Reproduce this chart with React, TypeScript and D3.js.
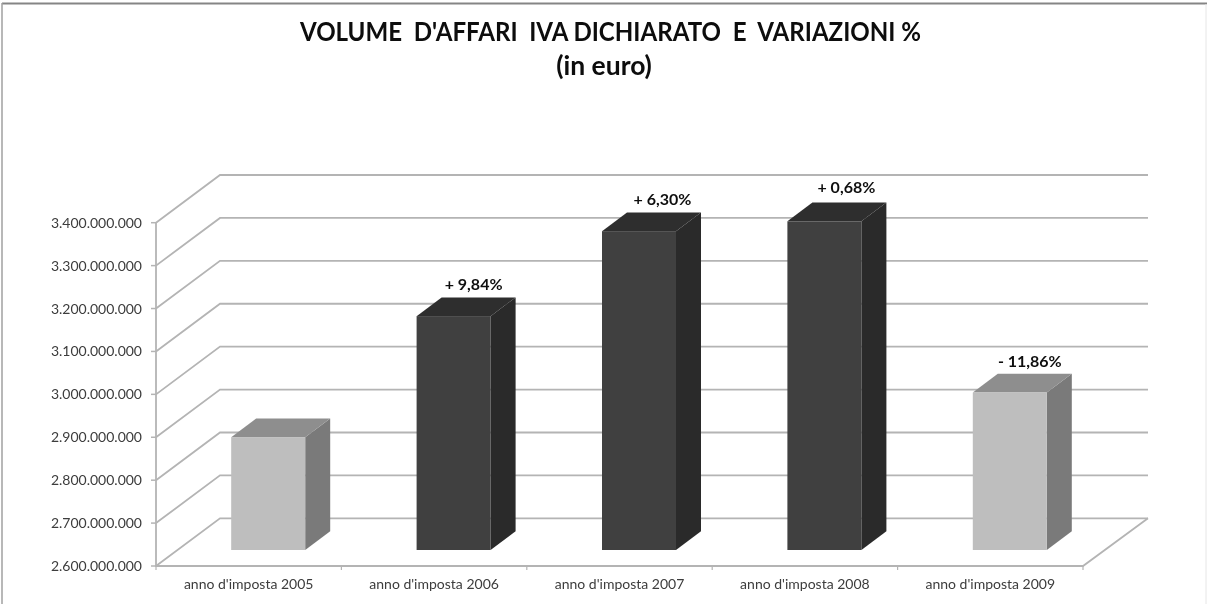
import React from "react";
import * as d3 from "d3";

const categories = ["anno d'imposta 2005", "anno d'imposta 2006", "anno d'imposta 2007", "anno d'imposta 2008", "anno d'imposta 2009"];
const values = [2863000000, 3145000000, 3343000000, 3366000000, 2967000000];
const changes = ["", "+ 9,84%", "+ 6,30%", "+ 0,68%", "- 11,86%"];
const highlighted = [false, true, true, true, false];
const yTicks = [2600000000, 2700000000, 2800000000, 2900000000, 3000000000, 3100000000, 3200000000, 3300000000, 3400000000];

const W = 1207, H = 604;
const font = "Lato, 'Open Sans', sans-serif";
const left = 156, right = 1083, bottom = 566, top = 222.7;
const depthX = 64, depthY = 47.7;
const barDepthX = 25, barDepthY = 18.7;
const barOffX = 19.5, barOffY = 16, barW = 74;
const labelNudgeX = [0, -17, -13.5, -15, -17];
const labelNudgeY = [0, -26, -26, -28, -26];

const y = d3.scaleLinear().domain([2600000000, 3400000000]).range([bottom, top]);
const x = d3.scaleBand<string>().domain(categories).range([left, right]);
const fmt = (v: number) => d3.format(",")(v).replace(/,/g, ".");
const pts = (p: [number, number][]) => p.map((q) => q.join(",")).join(" ");
const axis = "#b4b4b4";

export default function App() {
  return (
    <svg width={W} height={H} style={{ position: "absolute", left: 0, top: 0, background: "#fff" }}>
      <defs>
        <filter id="soft" x="0" y="0" width="100%" height="100%">
          <feGaussianBlur stdDeviation="0.45" />
        </filter>
      </defs>
      <g filter="url(#soft)">
        <rect x={0} y={0} width={W} height={H} fill="#fff" />
        <line x1={2} y1={3.5} x2={W} y2={3.5} stroke="#858585" strokeWidth={2} />
        <line x1={2} y1={3} x2={2} y2={H} stroke="#a0a0a0" strokeWidth={1.5} />
        <line x1={1206} y1={4} x2={1206} y2={H} stroke="#e6e6e6" strokeWidth={1} />

        <text x={610.5} y={41} textAnchor="middle" fontFamily={font} fontWeight={700} fontSize={26.5} fill="#0a0a0a" xmlSpace="preserve" textLength={621} lengthAdjust="spacingAndGlyphs">
          VOLUME  D'AFFARI  IVA DICHIARATO  E  VARIAZIONI %
        </text>
        <text x={604} y={75} textAnchor="middle" fontFamily={font} fontWeight={700} fontSize={26.5} fill="#0a0a0a">(in euro)</text>

        {yTicks.map((t) => {
          const yy = y(t);
          return (
            <g key={t}>
              <polyline
                points={pts([[left, yy], [left + depthX, yy - depthY], [1148, yy - depthY]])}
                fill="none" stroke={axis} strokeWidth={1.8}
              />
              <line x1={left - 5} x2={left} y1={yy} y2={yy} stroke={axis} strokeWidth={1.5} />
              <text x={142} y={yy + 5} textAnchor="end" fontFamily={font} fontSize={14} fill="#3c3c3c">{fmt(t)}</text>
            </g>
          );
        })}

        <polyline points={pts([[left, y(3400000000)], [left, bottom], [right, bottom], [1148, bottom - depthY]])} fill="none" stroke={axis} strokeWidth={1.8} />
        {d3.range(categories.length + 1).map((i) => {
          const xx = left + i * x.step();
          return <line key={i} x1={xx} x2={xx} y1={bottom} y2={bottom + 4} stroke={axis} strokeWidth={1.2} />;
        })}

        {categories.map((c, i) => {
          const bx0 = x(c)! + (x.bandwidth() - barW) / 2 + barOffX;
          const bx1 = bx0 + barW;
          const yBase = bottom - barOffY;
          const yTop = y(values[i]) - barOffY;
          const front = highlighted[i] ? "#3f3f3f" : "#bebebe";
          const side = highlighted[i] ? "#292929" : "#7a7a7a";
          const cap = highlighted[i] ? "#2e2e2e" : "#8e8e8e";
          return (
            <g key={c}>
              <polygon points={pts([[bx1, yBase], [bx1 + barDepthX, yBase - barDepthY], [bx1 + barDepthX, yTop - barDepthY], [bx1, yTop]])} fill={side} />
              <polygon points={pts([[bx0, yTop], [bx0 + barDepthX, yTop - barDepthY], [bx1 + barDepthX, yTop - barDepthY], [bx1, yTop]])} fill={cap} />
              <rect x={bx0} y={yTop} width={barW} height={yBase - yTop} fill={front} />
              {changes[i] && (
                <text x={bx1 + labelNudgeX[i]} y={yTop + labelNudgeY[i]} textAnchor="middle" fontFamily={font} fontWeight={700} fontSize={16} fill="#111">{changes[i]}</text>
              )}
              <text x={x(c)! + x.bandwidth() / 2} y={589} textAnchor="middle" fontFamily={font} fontSize={14} fill="#3c3c3c">{c}</text>
            </g>
          );
        })}
      </g>
    </svg>
  );
}
